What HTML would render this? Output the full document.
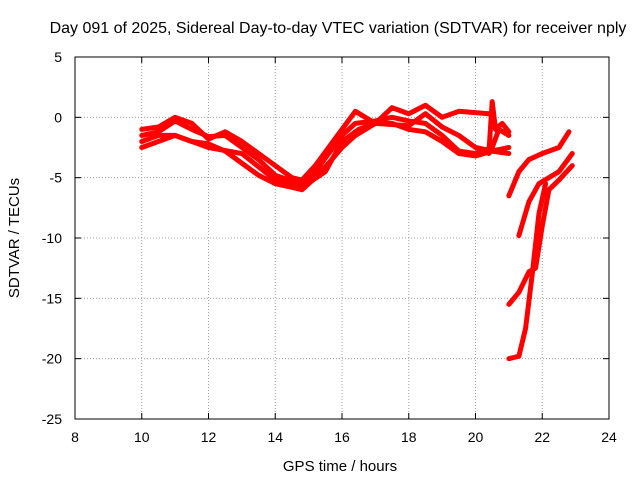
<!DOCTYPE html>
<html><head><meta charset="utf-8"><style>
body{margin:0;background:#fff;}
svg{display:block;font-family:"Liberation Sans",sans-serif;}
</style></head><body>
<svg id="chart" width="640" height="480" viewBox="0 0 640 480">
<rect width="640" height="480" fill="#fff"/>
<text x="338" y="33" font-size="16" text-anchor="middle">Day 091 of 2025, Sidereal Day-to-day VTEC variation (SDTVAR) for receiver nply</text>
<g id="grid"></g>
<g id="ticks"></g>
<g id="series"></g>
<rect x="75" y="57" width="534" height="362" fill="none" stroke="#000" stroke-width="1"/>
<text x="340" y="471" font-size="15" text-anchor="middle">GPS time / hours</text>
<text x="19" y="238" font-size="15" text-anchor="middle" transform="rotate(-90 19 238)">SDTVAR / TECUs</text>
</svg>
<script>
const xTicks=[8,10,12,14,16,18,20,22,24];
const yTicks=[5,0,-5,-10,-15,-20,-25];
const trackA=[[10,-1.5],[10.5,-1.2],[11,-0.3],[11.5,-1.0],[12,-1.6],[12.5,-1.5],[13,-2.5],[13.5,-3.5],[14,-4.8],[14.5,-5.3],[14.8,-5.5],[15.2,-4.5],[15.6,-3],[16,-1.5],[16.4,-0.5],[17,-0.3],[17.5,0],[18,-0.3],[18.5,-0.5],[19,-1.5],[19.5,-2.8],[20,-3],[20.5,-2.5],[20.7,-1],[21,-1.5]];
const trackB=[[10,-2],[10.5,-1.5],[11,-1.5],[11.5,-2.0],[12,-2.2],[12.5,-2.8],[13,-3.8],[13.5,-4.8],[14,-5.5],[14.5,-5.8],[14.8,-6],[15.2,-5],[15.6,-3.8],[16,-2.5],[16.4,-1.5],[17,-0.5],[17.5,-0.5],[18,-1],[18.5,-1.2],[19,-2],[19.5,-3],[20,-3.2],[20.5,-2.8],[21,-2.5]];
const trackC=[[10,-1],[10.5,-0.8],[11,0],[11.5,-0.5],[12,-1.8],[12.5,-1.2],[13,-2],[13.5,-3],[14,-4],[14.5,-5],[14.8,-5.2],[15.2,-4],[15.6,-2.5],[16,-1],[16.4,0.5],[17,-0.5],[17.5,0.8],[18,0.3],[18.5,1],[19,0],[19.5,0.5],[20.4,0.3]];
const trackD=[[10,-2.5],[11,-1.5],[12,-2.5],[13,-3],[14,-5.2],[14.8,-5.8],[15.5,-4.5],[16,-2],[16.5,-1],[17,-0.5],[18,-0.7],[18.5,0.3],[19,-0.8],[19.5,-1.5],[20,-2.5],[20.5,-2.8],[21,-3]];
const trackSpike=[[20.4,-3],[20.5,1.3],[20.6,-1],[20.8,-0.5],[21,-1.2]];
const trackE=[[21,-6.5],[21.3,-4.5],[21.6,-3.5],[22,-3],[22.5,-2.5],[22.8,-1.2]];
const trackF=[[21.3,-9.8],[21.6,-7],[21.9,-5.5],[22.2,-5],[22.5,-4.5],[22.9,-3]];
const trackG=[[21,-15.5],[21.3,-14.5],[21.6,-12.8],[21.8,-12.5],[22.0,-9],[22.2,-6],[22.5,-5.2],[22.9,-4]];
const trackH=[[21,-20],[21.3,-19.8],[21.5,-17.5],[21.7,-13],[21.9,-8],[22.1,-5.5]];
const tracks=[trackA,trackB,trackC,trackD,trackSpike,trackE,trackF,trackG,trackH];
const NS="http://www.w3.org/2000/svg";
const X=h=>75+(h-8)*534/16;
const Y=v=>57+(5-v)*362/30;
function mk(t,a,p){const e=document.createElementNS(NS,t);for(const k in a)e.setAttribute(k,a[k]);p.appendChild(e);return e;}
const grid=document.getElementById('grid'),ticks=document.getElementById('ticks'),ser=document.getElementById('series');
xTicks.forEach(t=>{const x=X(t);
 if(t>8&&t<24){const l=mk('line',{x1:x,x2:x,y1:57,y2:419,stroke:'#a0a0a0','stroke-dasharray':'1,2'},grid);}
 mk('line',{x1:x,x2:x,y1:419,y2:413,stroke:'#000'},ticks);mk('line',{x1:x,x2:x,y1:57,y2:63,stroke:'#000'},ticks);
 const tx=mk('text',{x:x,y:442,'font-size':14,'text-anchor':'middle'},ticks);tx.textContent=t;
 });
yTicks.forEach(t=>{const y=Y(t);
 if(t<5&&t>-25){const l=mk('line',{x1:75,x2:609,y1:y,y2:y,stroke:'#a0a0a0','stroke-dasharray':'1,2'},grid);}
 mk('line',{x1:75,x2:81,y1:y,y2:y,stroke:'#000'},ticks);mk('line',{x1:609,x2:603,y1:y,y2:y,stroke:'#000'},ticks);
 const tx=mk('text',{x:62,y:y+5,'font-size':14,'text-anchor':'end'},ticks);tx.textContent=t;
 });
tracks.forEach((tr,i)=>{
 const pl=mk('polyline',{points:tr.map(p=>X(p[0])+','+Y(p[1])).join(' '),fill:'none',stroke:'#f00','stroke-width':5,'stroke-linejoin':'round','stroke-linecap':'round'},ser);
 
 
});
</script>
</body></html>
